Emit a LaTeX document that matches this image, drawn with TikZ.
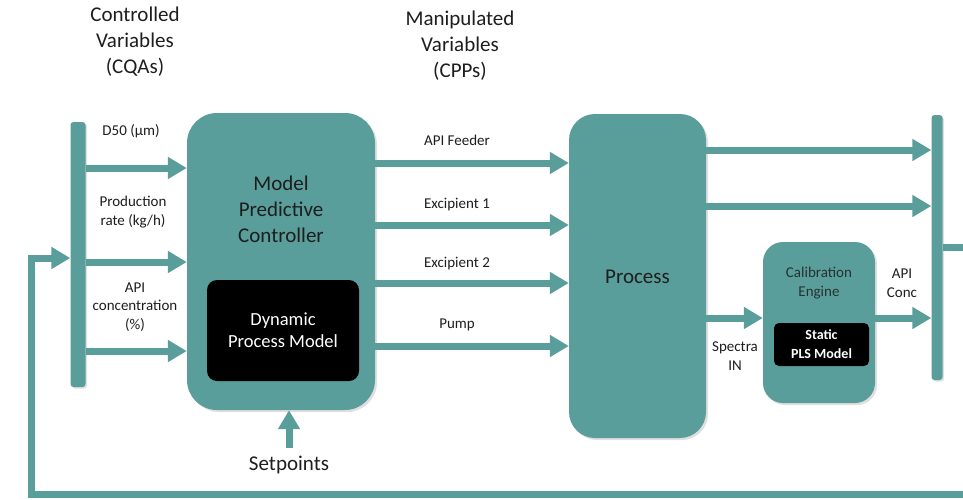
\documentclass[tikz,border=0pt]{standalone}
\usepackage{fontspec}
\setmainfont{Carlito}
\usetikzlibrary{arrows.meta,shadows}
\definecolor{tl}{RGB}{90,158,155}
\definecolor{txt}{RGB}{30,30,30}
\begin{document}
\begin{tikzpicture}[x=1pt,y=-1pt,
  box/.style={fill=tl,draw=none,inner sep=0pt,drop shadow={shadow xshift=2pt,shadow yshift=-2pt,opacity=0.25}},
  blk/.style={fill=black,draw=none,inner sep=0pt,rounded corners=10pt,text=white,align=center},
  bar/.style={fill=tl,draw=none,inner sep=0pt,rounded corners=3pt,drop shadow={shadow xshift=1.5pt,shadow yshift=-1.5pt,opacity=0.25}},
  arr/.style={draw=tl,line width=7pt,-{Triangle[length=19pt,width=21pt]}},
  lbl/.style={text=txt,align=center,font=\fontsize{15}{18.5}\selectfont,inner sep=0pt},
  big/.style={text=txt,align=center,font=\fontsize{21}{26}\selectfont,inner sep=0pt}]
\useasboundingbox (0,0) rectangle (963,499);
\fill[white] (0,0) rectangle (963,499);

% titles
\node[big] (cv) at (135,42) {Controlled\\Variables\\(CQAs)};
\node[big] (mv) at (460,46) {Manipulated\\Variables\\(CPPs)};

% boxes
\node[box,rounded corners=30pt,minimum width=188pt,minimum height=297pt] (mpc) at (281,261.5) {};
\node[blk,minimum width=152pt,minimum height=101pt,font=\fontsize{18.5}{22}\selectfont] (dyn) at (283,330.5) {Dynamic\\Process Model};
\node[big] (mpct) at (281,209.5) {Model\\Predictive\\Controller};

\node[box,rounded corners=26pt,minimum width=137pt,minimum height=324pt] (proc) at (637.5,276) {};
\node[big] (proct) at (637.5,277) {Process};

\node[box,rounded corners=20pt,minimum width=112pt,minimum height=161pt] (cal) at (819,322.5) {};
\node[lbl,text=txt!85!tl] (calt) at (819,283) {Calibration\\Engine};
\node[blk,rounded corners=5pt,minimum width=95pt,minimum height=43pt,font=\bfseries\fontsize{14}{19}\selectfont] (pls) at (821.5,344.5) {Static\\PLS Model};

% bars
\node[bar,minimum width=15pt,minimum height=265pt] (lbar) at (78,254.5) {};
\node[bar,minimum width=11pt,minimum height=265pt] (rbar) at (937,247.5) {};

% left labels and arrows
\node[lbl] (d50) at (131,131) {D50 (μm)};
\node[lbl] (prt) at (133,212) {Production\\rate (kg/h)};
\node[lbl] (apc) at (135,307) {API\\concentration\\(\%)};
\draw[arr] (lbar.east |- 0,168) -- (mpc.west |- 0,168);
\draw[arr] (lbar.east |- 0,262) -- (mpc.west |- 0,262);
\draw[arr] (lbar.east |- 0,351) -- (mpc.west |- 0,351);

% middle labels and arrows
\node[lbl] (apif) at (457,140) {API Feeder};
\node[lbl] (ex1) at (457,205) {Excipient 1};
\node[lbl] (ex2) at (457,264) {Excipient 2};
\node[lbl] (pump) at (457,325) {Pump};
\draw[arr] (mpc.east |- 0,163) -- (proc.west |- 0,163);
\draw[arr] (mpc.east |- 0,225) -- (proc.west |- 0,225);
\draw[arr] (mpc.east |- 0,283) -- (proc.west |- 0,283);
\draw[arr] (mpc.east |- 0,346) -- (proc.west |- 0,346);

% right arrows
\draw[arr] (proc.east |- 0,150) -- (rbar.west |- 0,150);
\draw[arr] (proc.east |- 0,206) -- (rbar.west |- 0,206);
\draw[arr] (proc.east |- 0,318) -- (cal.west |- 0,318);
\draw[arr] (cal.east |- 0,318) -- (rbar.west |- 0,318);
\node[lbl] (spec) at (735,356) {Spectra\\IN};
\node[lbl] (apic) at (902,283) {API\\Conc};

% setpoints
\node[big] (sp) at (289,465) {Setpoints};
\coordinate (spt) at (289,448);
\draw[arr] (spt) -- (mpc.south -| spt);

% feedback loop
\coordinate (f1) at (966,247);
\coordinate (f2) at (966,494);
\coordinate (f3) at (31,494);
\coordinate (f4) at (31,258);
\draw[arr,line join=miter] (rbar.east |- f1) -- (f1) -- (f2) -- (f3) -- (f4) -- (lbar.west |- f4);
\end{tikzpicture}
\end{document}
